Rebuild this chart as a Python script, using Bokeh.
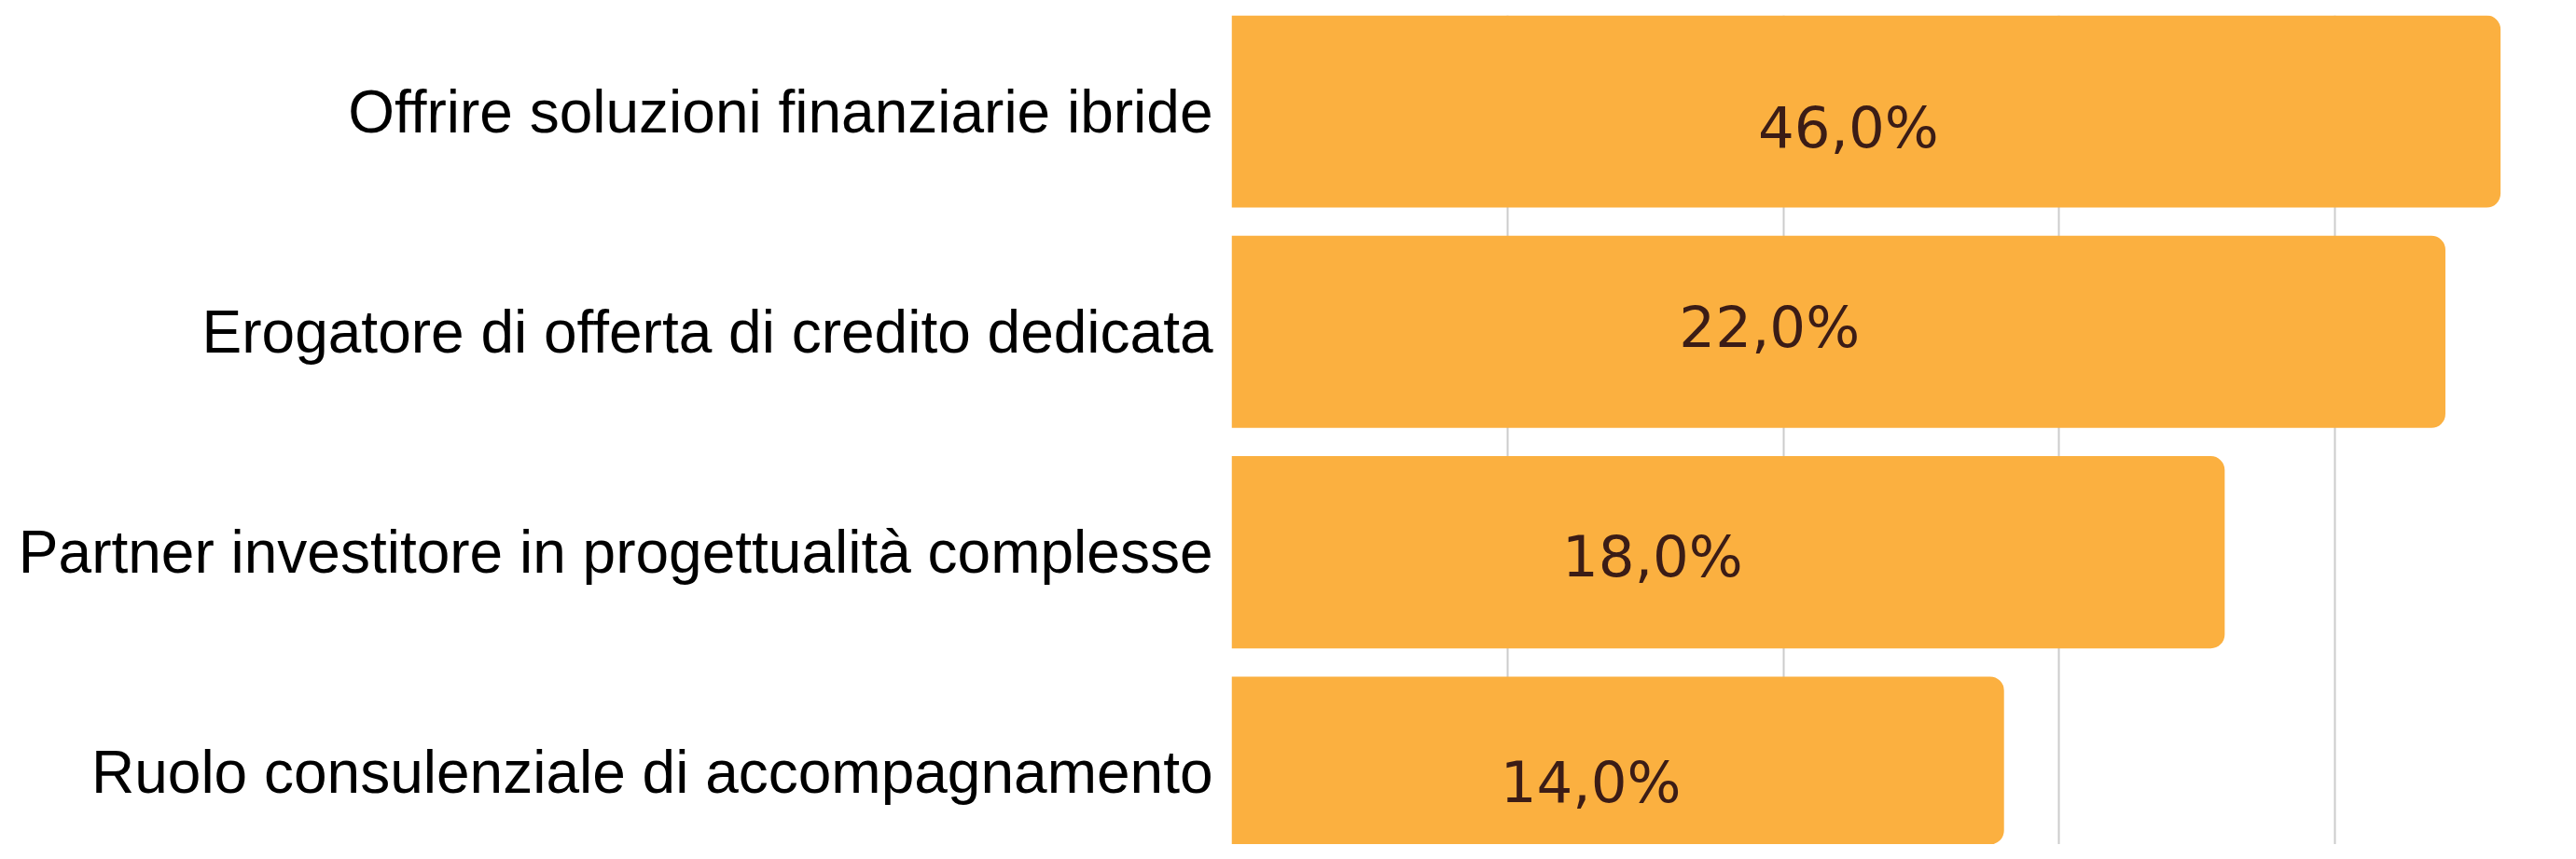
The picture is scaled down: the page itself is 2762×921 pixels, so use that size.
from bokeh.plotting import figure
from bokeh.models import ColumnDataSource, FixedTicker, Range1d
from bokeh.core.properties import value
from bokeh.embed import file_html
from bokeh.resources import INLINE

# ---- data ----
categories = [
    "Offrire soluzioni finanziarie ibride",
    "Erogatore di offerta di credito dedicata",
    "Partner investitore in progettualità complesse",
    "Ruolo consulenziale di accompagnamento",
]
bar_lengths = [46, 44, 36, 28]
pct_labels = ["46,0%", "22,0%", "18,0%", "14,0%"]
grid_ticks = [0, 10, 20, 30, 40]

# ---- layout/style ----
positions = [-i for i in range(len(categories))]
label_dx = [-19, -74, -81, -29]
label_dy = [17, -5.5, 4, 10]

src = ColumnDataSource(dict(
    y=positions,
    right=bar_lengths,
    mid=[v / 2 for v in bar_lengths],
    txt=pct_labels,
    dx=label_dx,
    dy=label_dy,
))

p = figure(
    width=2746, height=905,
    output_backend="svg", toolbar_location=None,
    x_range=Range1d(0, 48.21), y_range=Range1d(-3.326, 0.436),
    min_border_left=1320, min_border_right=0, min_border_top=16, min_border_bottom=0,
)
p.outline_line_color = None
p.background_fill_color = "white"
p.border_fill_color = "white"

p.hbar(y="y", left=0, right="right", height=0.872, source=src,
       fill_color="#FBB040", line_color=None, border_radius=(0, 15, 15, 0))

p.text(x="mid", y="y", text="txt", x_offset="dx", y_offset="dy", source=src,
       text_align="center", text_baseline="middle",
       text_font=value("DejaVu Sans"), text_font_size="61px", text_color="#3b1c16")

p.xaxis.visible = False
p.xgrid.ticker = FixedTicker(ticks=grid_ticks)
p.xgrid.grid_line_color = "#cccccc"
p.xgrid.grid_line_width = 2
p.ygrid.visible = False

yax = p.yaxis[0]
yax.ticker = FixedTicker(ticks=positions)
yax.major_label_overrides = {float(pos): c for pos, c in zip(positions, categories)}
yax.axis_line_color = None
yax.major_tick_line_color = None
yax.minor_tick_line_color = None
yax.major_tick_out = 0
yax.major_tick_in = 0
yax.major_label_standoff = 20
yax.major_label_text_font = "Liberation Sans"
yax.major_label_text_font_size = "64px"
yax.major_label_text_color = "#000000"

open("out.html", "w").write(file_html(p, INLINE))
